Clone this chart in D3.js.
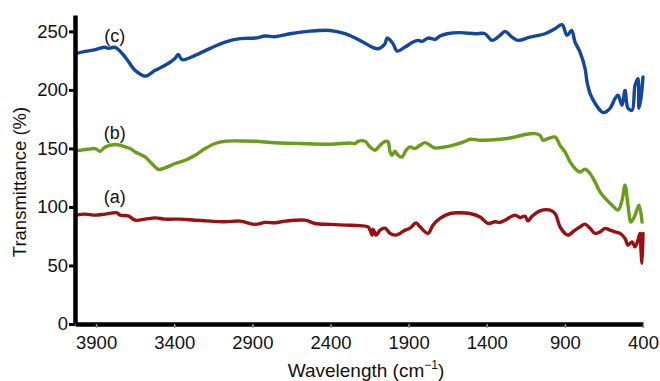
<!DOCTYPE html>
<html>
<head>
<meta charset="utf-8">
<script src="https://cdn.jsdelivr.net/npm/d3@7"></script>
<style>
  body { margin: 0; background: #fff; }
  svg text { font-family: "Liberation Sans", Arial, sans-serif; }
</style>
</head>
<body>
<div id="chart"></div>
<script>
// FTIR spectra (wavenumber cm-1, transmittance %)
var waveC = [4030, 3970, 3905, 3842, 3823, 3778, 3714, 3650, 3586, 3522, 3458, 3394, 3375, 3349, 3266, 3170, 3074, 2978, 2882, 2818, 2754, 2658, 2531, 2403, 2307, 2211, 2134, 2095, 2051, 2038, 2000, 1974, 1923, 1872, 1840, 1814, 1776, 1731, 1699, 1654, 1571, 1475, 1411, 1366, 1315, 1283, 1238, 1200, 1123, 1027, 963, 918, 886, 857, 835, 803, 771, 758, 739, 707, 675, 656, 611, 579, 560, 534, 515, 496, 470, 451, 432, 426, 413, 400];
var valC = [231.0, 232.9, 234.4, 236.5, 235.5, 236.3, 228.1, 216.7, 211.8, 216.7, 221.0, 227.0, 230.4, 225.8, 229.5, 235.5, 240.9, 243.8, 244.3, 246.0, 245.5, 248.0, 250.2, 250.8, 248.0, 242.3, 236.6, 235.2, 239.5, 244.3, 239.5, 233.2, 236.6, 240.9, 242.3, 241.5, 244.3, 243.2, 246.0, 248.0, 248.9, 248.0, 248.0, 242.3, 246.6, 250.0, 245.1, 242.3, 245.1, 248.0, 252.3, 255.7, 246.6, 250.8, 240.9, 232.3, 218.4, 206.7, 197.1, 188.6, 182.6, 180.6, 184.3, 192.6, 195.4, 186.9, 199.6, 184.3, 182.6, 203.9, 209.6, 184.3, 192.8, 211.0];

var waveB = [4030, 4000, 3951, 3906, 3874, 3842, 3778, 3746, 3714, 3682, 3650, 3586, 3554, 3522, 3500, 3458, 3394, 3330, 3266, 3202, 3138, 3074, 2978, 2882, 2754, 2595, 2403, 2275, 2243, 2223, 2179, 2147, 2115, 2083, 2051, 2031, 2019, 2006, 1987, 1968, 1942, 1916, 1891, 1859, 1827, 1795, 1763, 1731, 1667, 1603, 1539, 1507, 1443, 1315, 1219, 1155, 1091, 1059, 1040, 1008, 963, 950, 931, 899, 867, 835, 803, 771, 739, 707, 675, 643, 598, 560, 534, 515, 496, 477, 451, 426, 406];
var valB = [148.0, 148.5, 149.3, 149.9, 147.6, 151.3, 153.3, 152.7, 151.3, 149.9, 147.0, 142.7, 138.5, 134.2, 132.0, 133.4, 137.1, 139.9, 144.2, 149.9, 154.2, 156.1, 156.4, 156.1, 154.9, 154.2, 153.6, 154.7, 154.2, 156.1, 156.1, 151.3, 148.5, 152.7, 156.1, 155.5, 147.0, 144.2, 147.6, 144.2, 142.7, 148.5, 151.3, 149.9, 152.7, 155.0, 152.7, 150.4, 151.3, 153.3, 156.1, 157.8, 157.0, 157.8, 159.8, 161.9, 162.7, 161.3, 157.0, 158.4, 159.8, 157.8, 152.7, 147.0, 138.5, 132.8, 129.9, 132.2, 128.6, 121.4, 112.9, 107.5, 101.5, 97.3, 105.8, 118.6, 101.5, 87.0, 93.0, 101.5, 87.0];

var waveA = [4030, 3970, 3906, 3842, 3767, 3746, 3695, 3650, 3586, 3522, 3458, 3362, 3266, 3170, 3074, 2978, 2882, 2818, 2754, 2690, 2563, 2499, 2403, 2307, 2211, 2159, 2147, 2134, 2127, 2108, 2083, 2051, 2019, 1987, 1955, 1923, 1891, 1852, 1827, 1776, 1744, 1699, 1635, 1571, 1507, 1443, 1392, 1347, 1315, 1283, 1219, 1187, 1155, 1136, 1110, 1059, 995, 963, 931, 899, 880, 835, 803, 771, 739, 707, 675, 643, 611, 579, 547, 515, 496, 470, 451, 432, 419, 413, 406, 400];
var valA = [93.0, 93.9, 93.0, 93.9, 95.0, 93.0, 92.4, 88.7, 89.6, 90.7, 89.6, 89.6, 88.7, 87.9, 87.3, 87.9, 85.1, 86.8, 86.5, 87.9, 88.7, 85.9, 85.1, 84.5, 84.0, 83.0, 80.2, 75.9, 81.0, 75.9, 80.2, 81.9, 77.4, 75.9, 77.4, 80.2, 81.9, 86.4, 83.0, 77.4, 84.5, 90.2, 94.4, 95.0, 94.4, 91.5, 85.9, 87.3, 86.8, 88.7, 93.0, 91.0, 92.1, 88.1, 92.1, 96.7, 97.3, 94.4, 83.0, 77.4, 75.9, 80.2, 83.0, 85.3, 81.7, 77.4, 78.7, 81.7, 80.2, 78.7, 77.4, 73.1, 67.4, 70.2, 66.0, 71.7, 77.4, 63.1, 51.8, 77.4];

var yTicks = [0, 50, 100, 150, 200, 250];
var xTicks = [3900, 3400, 2900, 2400, 1900, 1400, 900, 400];
var seriesNames = ["(c)", "(b)", "(a)"];
var seriesColors = ["#13479b", "#6b9c1a", "#9a0f12"];

var width = 660, height = 381;

var svg = d3.select("#chart").append("svg")
    .attr("width", width)
    .attr("height", height);

var x = d3.scaleLinear().domain([4035, 400]).range([75, 643]);
var y = d3.scaleLinear().domain([0, 264]).range([324, 15]);

var series = [
    { name: seriesNames[0], color: seriesColors[0], wave: waveC, val: valC },
    { name: seriesNames[1], color: seriesColors[1], wave: waveB, val: valB },
    { name: seriesNames[2], color: seriesColors[2], wave: waveA, val: valA }
];

var line = d3.line()
    .x(function (d) { return x(d[0]); })
    .y(function (d) { return y(d[1]); })
    .curve(d3.curveCatmullRom.alpha(0.5));

series.forEach(function (s) {
    var pts = s.wave.map(function (w, i) { return [w, s.val[i]]; });
    svg.append("path")
        .datum(pts)
        .attr("fill", "none")
        .attr("stroke", s.color)
        .attr("stroke-width", 3.4)
        .attr("stroke-linejoin", "round")
        .attr("stroke-linecap", "round")
        .attr("d", line);

    // label sits just above the start of each trace
    svg.append("text")
        .attr("x", x(3780))
        .attr("y", y(s.val[0]) - 12)
        .attr("text-anchor", "middle")
        .attr("font-size", 18)
        .attr("fill", "#111")
        .text(s.name);
});

// x axis
var xAxis = svg.append("g")
    .attr("transform", "translate(0," + y(0) + ")")
    .call(d3.axisBottom(x).tickValues(xTicks).tickFormat(d3.format("d"))
        .tickSize(4).tickSizeOuter(0).tickPadding(8));
xAxis.select(".domain").attr("stroke", "#000").attr("stroke-width", 4.5);
xAxis.selectAll(".tick line").attr("stroke", "#999").attr("stroke-width", 1.5);
xAxis.selectAll(".tick text")
    .attr("font-size", 18.5)
    .attr("fill", "#111")
    .attr("font-family", "Liberation Sans, Arial, sans-serif");

// y axis
var yAxis = svg.append("g")
    .attr("transform", "translate(" + x(4035) + ",0)")
    .call(d3.axisLeft(y).tickValues(yTicks).tickFormat(d3.format("d"))
        .tickSize(6).tickSizeOuter(0).tickPadding(1));
yAxis.select(".domain").attr("stroke", "#000").attr("stroke-width", 4.5);
yAxis.selectAll(".tick line").attr("stroke", "#000").attr("stroke-width", 3);
yAxis.selectAll(".tick text")
    .attr("font-size", 18.5)
    .attr("fill", "#111")
    .attr("font-family", "Liberation Sans, Arial, sans-serif");

// axis titles
svg.append("text")
    .attr("transform", "translate(26,182) rotate(-90)")
    .attr("text-anchor", "middle")
    .attr("font-size", 18.5)
    .attr("fill", "#111")
    .text("Transmittance (%)");

var xt = svg.append("text")
    .attr("x", 366)
    .attr("y", 377)
    .attr("text-anchor", "middle")
    .attr("font-size", 19)
    .attr("fill", "#111");
xt.append("tspan").text("Wavelength (cm");
xt.append("tspan").attr("dy", -8).attr("font-size", 12).text("\u22121");
xt.append("tspan").attr("dy", 8).text(")");
</script>
</body>
</html>
